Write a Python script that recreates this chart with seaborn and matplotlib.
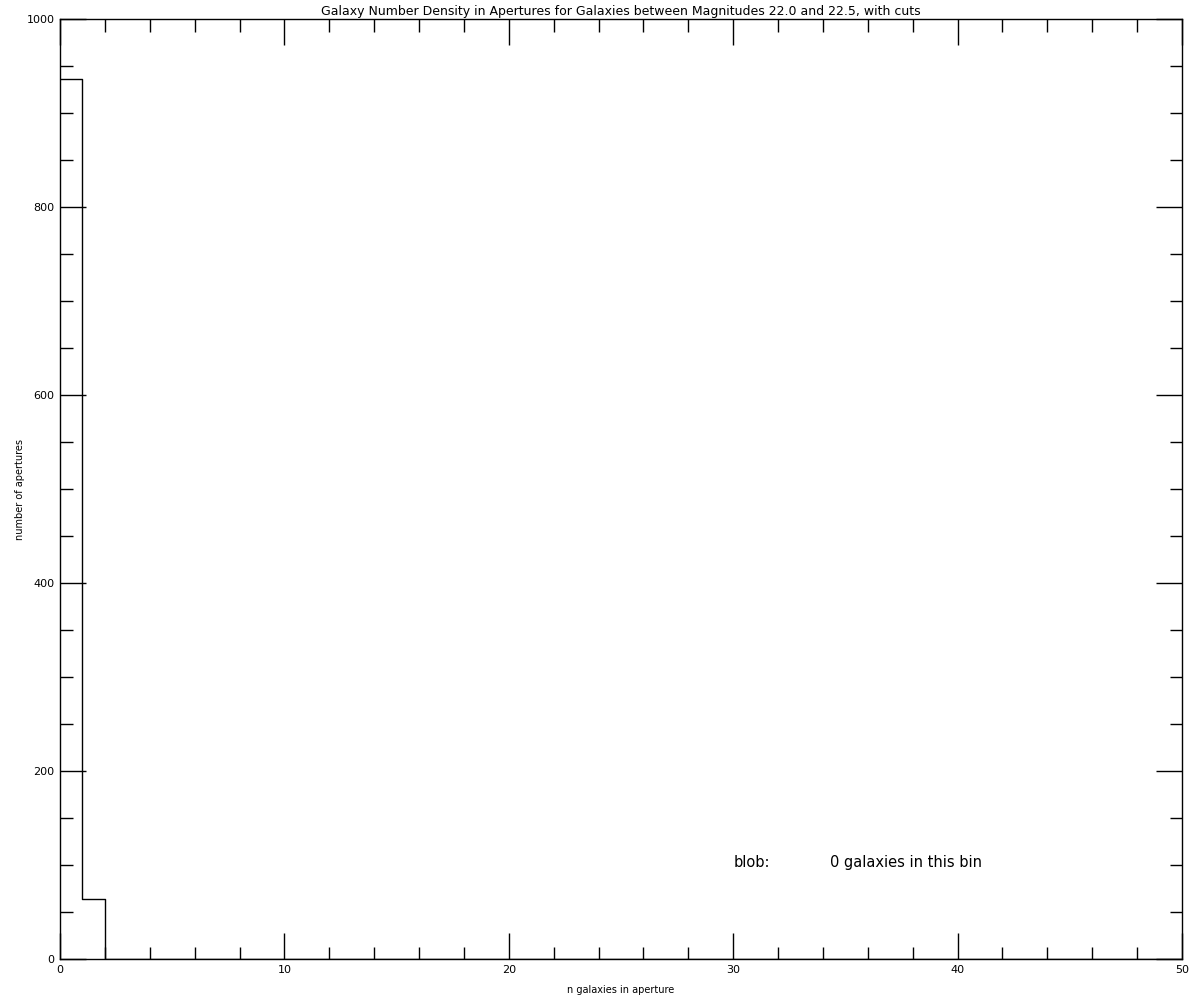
import matplotlib
matplotlib.use("Agg")
import matplotlib.pyplot as plt
import seaborn as sns
import numpy as np
from matplotlib.ticker import MultipleLocator

sns.set_theme(style="white")
plt.rcParams['font.family'] = ['DejaVu Sans']
plt.rcParams['text.color'] = 'black'
plt.rcParams['axes.labelcolor'] = 'black'

# data
n_galaxies = [0, 1]          # bin left edges (n galaxies in aperture)
n_apertures = [936, 64]      # counts per bin
bin_edges = list(range(0, 51))
x_ticks = [0, 10, 20, 30, 40, 50]
y_ticks = [0, 200, 400, 600, 800, 1000]

fig = plt.figure(figsize=(12, 10), dpi=100)
ax = fig.add_axes([0.05, 0.041, 0.935, 0.94])

sns.histplot(x=n_galaxies, weights=n_apertures, bins=bin_edges, element="step",
             fill=False, color="black", linewidth=1.0, ax=ax)

ax.set_xlim(0, 50)
ax.set_ylim(0, 1000)
ax.set_xticks(x_ticks)
ax.set_yticks(y_ticks)
ax.xaxis.set_minor_locator(MultipleLocator(2))
ax.yaxis.set_minor_locator(MultipleLocator(50))
ax.tick_params(which="both", direction="in", top=True, right=True, bottom=True, left=True,
               colors="black", labelcolor="black", labelsize=8, width=1.0)
ax.tick_params(which="major", length=19)
ax.tick_params(which="minor", length=9)
ax.tick_params(axis="x", which="major", pad=4)
ax.tick_params(axis="y", which="major", pad=4)
ax.tick_params(labeltop=False, labelright=False)
for s in ax.spines.values():
    s.set_visible(True)
    s.set_color("black")
    s.set_linewidth(1.0)

ax.set_xlabel("n galaxies in aperture", fontsize=7, color="black")
ax.set_ylabel("number of apertures", fontsize=7, color="black")
ax.xaxis.set_label_coords(0.5, -0.0277)
ax.yaxis.set_label_coords(-0.031, 0.5)
ax.set_title("Galaxy Number Density in Apertures for Galaxies between Magnitudes 22.0 and 22.5, with cuts",
             fontsize=9, pad=3, color="black")

ax.text(30, 103, "blob:", fontsize=10.5, ha="left", va="center", color="black")
ax.text(34.3, 103, "0 galaxies in this bin", fontsize=10.5, ha="left", va="center", color="black")

fig.savefig("out.png", dpi=100, facecolor="white")
